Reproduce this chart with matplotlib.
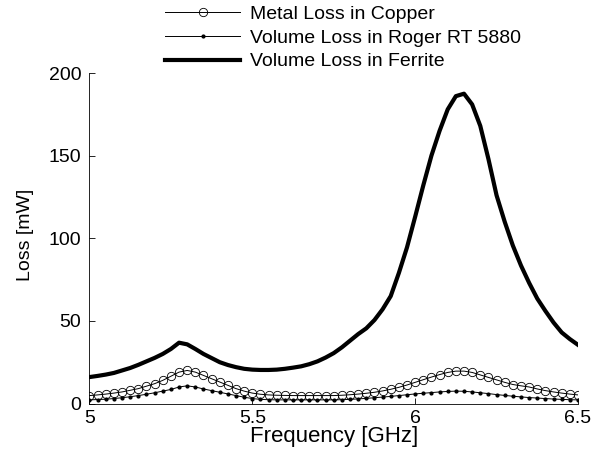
import numpy as np
from matplotlib import pyplot as plt

plt.rcParams['font.family'] = ['Liberation Sans', 'DejaVu Sans']

# frecuencias en GHz (paso 0.025)
freq = [5.000, 5.025, 5.050, 5.075, 5.100, 5.125, 5.150, 5.175, 5.200, 5.225,
        5.250, 5.275, 5.300, 5.325, 5.350, 5.375, 5.400, 5.425, 5.450, 5.475,
        5.500, 5.525, 5.550, 5.575, 5.600, 5.625, 5.650, 5.675, 5.700, 5.725,
        5.750, 5.775, 5.800, 5.825, 5.850, 5.875, 5.900, 5.925, 5.950, 5.975,
        6.000, 6.025, 6.050, 6.075, 6.100, 6.125, 6.150, 6.175, 6.200, 6.225,
        6.250, 6.275, 6.300, 6.325, 6.350, 6.375, 6.400, 6.425, 6.450, 6.475,
        6.500]

# perdidas en mW
copper = [4.8, 5.2, 5.7, 6.3, 7.0, 8.0, 9.0, 10.5, 12.0, 14.0,
          16.5, 19.0, 20.0, 19.0, 17.0, 15.0, 13.0, 11.0, 9.0, 7.5,
          6.3, 5.6, 5.2, 5.0, 4.9, 4.8, 4.8, 4.8, 4.8, 4.8,
          4.8, 5.0, 5.3, 5.7, 6.2, 6.8, 7.6, 8.6, 9.8, 11.2,
          12.8, 14.4, 16.0, 17.5, 18.8, 19.6, 19.6, 18.8, 17.3, 15.8,
          14.3, 12.8, 11.5, 10.7, 10.0, 8.8, 7.8, 7.0, 6.3, 5.7,
          5.2]

roger = [2.2, 2.4, 2.6, 3.0, 3.5, 4.1, 4.8, 5.6, 6.5, 7.5,
         8.5, 10.0, 10.7, 10.0, 8.8, 7.8, 6.8, 5.8, 4.8, 3.8,
         3.0, 2.5, 2.3, 2.2, 2.2, 2.2, 2.2, 2.2, 2.2, 2.2,
         2.2, 2.3, 2.5, 2.8, 3.1, 3.5, 3.9, 4.3, 4.8, 5.3,
         5.8, 6.2, 6.6, 7.0, 7.3, 7.5, 7.4, 7.0, 6.5, 6.0,
         5.4, 4.9, 4.4, 4.0, 3.6, 3.3, 3.0, 2.7, 2.5, 2.3,
         2.2]

ferrite = [16.0, 16.7, 17.5, 18.5, 20.0, 21.5, 23.4, 25.5, 27.6, 30.0,
           33.0, 36.8, 35.8, 33.0, 30.0, 27.5, 25.0, 23.3, 22.0, 21.0,
           20.5, 20.3, 20.3, 20.5, 21.0, 21.7, 22.5, 23.8, 25.5, 27.8,
           30.5, 34.0, 38.0, 42.0, 45.5, 50.5, 57.0, 65.0, 79.0, 94.5,
           113.0, 132.0, 150.0, 165.0, 178.0, 186.0, 187.5, 181.0, 168.0, 148.0,
           126.0, 110.0, 95.6, 83.5, 73.0, 63.5, 56.0, 49.0, 43.0, 39.0,
           35.5]

fs = 14

fig = plt.figure(figsize=(5.99, 4.59), dpi=100)
ax = fig.add_axes([0.1494, 0.1209, 0.8155, 0.72])

ax.plot(freq, copper, color='k', lw=0.7, marker='o', markersize=6,
        markerfacecolor='none', markeredgewidth=0.6, label='Metal Loss in Copper')
ax.plot(freq, roger, color='k', lw=0.7, marker='.', markersize=4,
        label='Volume Loss in Roger RT 5880')
ax.plot(freq, ferrite, color='k', lw=3.0, label='Volume Loss in Ferrite')

ax.set_xlim(5, 6.5)
ax.set_ylim(0, 200)
ax.set_xticks([5, 5.5, 6, 6.5])
ax.set_xticklabels(['5', '5.5', '6', '6.5'])
ax.set_yticks([0, 50, 100, 150, 200])
ax.tick_params(direction='in', labelsize=fs, length=4, width=0.6)
ax.tick_params(axis='x', pad=4.5)
ax.tick_params(axis='y', pad=5.8)
ax.spines['top'].set_visible(False)
ax.spines['right'].set_visible(False)
for s in ['left', 'bottom']:
    ax.spines[s].set_linewidth(0.6)

ax.set_xlabel('Frequency [GHz]', fontsize=16)
ax.xaxis.set_label_coords(0.5, -0.0675)
ax.set_ylabel('Loss [mW]', fontsize=fs)
ax.yaxis.set_label_coords(-0.1136, 0.511)

fig.legend(loc='upper left', bbox_to_anchor=(165 / 599, 0.988), frameon=False,
           fontsize=fs, handlelength=3.86, numpoints=1, labelspacing=0.31,
           handletextpad=0.51, borderpad=0, borderaxespad=0)

fig.savefig('out.png', dpi=100)
